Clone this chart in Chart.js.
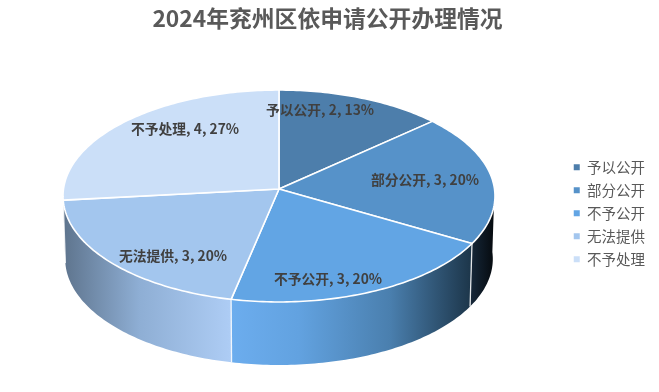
<!DOCTYPE html>
<html lang="zh">
<head>
<meta charset="utf-8">
<style>html,body{margin:0;padding:0;background:#fff}canvas{display:block}</style>
<script src="https://cdn.jsdelivr.net/npm/chart.js@4"></script>
</head>
<body>
<canvas id="c" width="659" height="392"></canvas>
<script>
const titleText = '2024年兖州区依申请公开办理情况';
const categories = ['予以公开', '部分公开', '不予公开', '无法提供', '不予处理'];
const values = [2, 3, 3, 3, 4];
const topColors = ['#4d7eab', '#5692c9', '#62a5e4', '#a3c6ee', '#cbdff8'];
const wallStops = [
  [['#4d7eab', 0], ['#4d7eab', 1]],
  [['#16283a', 0], ['#05090d', 1]],
  [['#6cadee', 0], ['#62a2e0', 0.28], ['#4a7fae', 0.66], ['#1c3549', 1]],
  [['#aecdf5', 0], ['#8eaed4', 0.55], ['#5e748d', 1]],
  [['#5e748d', 0], ['#5e748d', 1]]
];
const labelCenters = [[320, 110], [425, 180], [328, 279], [173, 256], [185, 129]];

const FONT = "'Noto Sans CJK SC', sans-serif";
const CX = 279, CY = 189, RA = 215.5, RB = 105.5, K = 0.066, DEPTH = 63, BASE_X = 0.99;

function project(theta, r, drop) {
  const u = r * Math.sin(theta), v = r * Math.cos(theta), w = 1 + K * v;
  const sx = drop ? BASE_X : 1;
  return [CX + sx * RA * u / w, CY - RB * v / w + (drop ? DEPTH : 0)];
}
const toClock = a => a + Math.PI / 2;

const pie3d = {
  id: 'pie3d',
  beforeDatasetsDraw(chart) {
    const ctx = chart.ctx;
    const arcs = chart.getDatasetMeta(0).data;
    ctx.save();
    ctx.lineJoin = 'round';
    const STEP = Math.PI / 180;
    const vis0 = Math.PI / 2, vis1 = 3 * Math.PI / 2;
    const segs = arcs.map((a, i) => ({ i, s: toClock(a.startAngle), e: toClock(a.endAngle) }));
    const order = segs.slice().sort((p, q) =>
      Math.abs((p.s + p.e) / 2 - Math.PI) < Math.abs((q.s + q.e) / 2 - Math.PI) ? 1 : -1);
    // side walls, outermost first
    for (const sg of order) {
      const s = Math.max(sg.s, vis0), e = Math.min(sg.e, vis1);
      if (e <= s) continue;
      const top = [], bot = [];
      for (let t = s; t < e; t += STEP) { top.push(project(t, 1, false)); bot.push(project(t, 1, true)); }
      top.push(project(e, 1, false)); bot.push(project(e, 1, true));
      const xs = top.map(p => p[0]).concat(bot.map(p => p[0]));
      const minX = Math.min(...xs), maxX = Math.max(...xs);
      const rightward = sg.i === 1 || sg.i === 2;
      const g = ctx.createLinearGradient(rightward ? minX : maxX, 0, rightward ? maxX : minX, 0);
      wallStops[sg.i].forEach(st => g.addColorStop(st[1], st[0]));
      ctx.beginPath();
      top.forEach((p, n) => n ? ctx.lineTo(p[0], p[1]) : ctx.moveTo(p[0], p[1]));
      bot.reverse().forEach(p => ctx.lineTo(p[0], p[1]));
      ctx.closePath();
      ctx.fillStyle = g;
      ctx.fill();
    }
    // seams between wall pieces
    ctx.strokeStyle = 'rgba(255,255,255,0.85)';
    ctx.lineWidth = 1.3;
    for (const sg of segs) {
      if (sg.e <= vis0 || sg.e >= vis1) continue;
      const a = project(sg.e, 1, false), b = project(sg.e, 1, true);
      ctx.beginPath(); ctx.moveTo(a[0], a[1]); ctx.lineTo(b[0], b[1]); ctx.stroke();
    }
    // top face
    ctx.strokeStyle = '#ffffff';
    ctx.lineWidth = 1.6;
    for (const sg of segs) {
      ctx.beginPath();
      ctx.moveTo(CX, CY);
      for (let t = sg.s; t < sg.e; t += STEP) { const p = project(t, 1, false); ctx.lineTo(p[0], p[1]); }
      const p = project(sg.e, 1, false); ctx.lineTo(p[0], p[1]);
      ctx.closePath();
      ctx.fillStyle = topColors[sg.i];
      ctx.fill();
      ctx.stroke();
    }
    // data labels
    const total = values.reduce((a, b) => a + b, 0);
    ctx.font = 'bold 13.8px ' + FONT;
    ctx.fillStyle = '#404040';
    ctx.textAlign = 'center';
    ctx.textBaseline = 'middle';
    categories.forEach((name, i) => {
      const txt = name + ', ' + values[i] + ', ' + Math.round(values[i] / total * 100) + '%';
      ctx.fillText(txt, labelCenters[i][0], labelCenters[i][1]);
    });
    ctx.restore();
    return false;
  }
};

new Chart(document.getElementById('c'), {
  type: 'pie',
  data: {
    labels: categories,
    datasets: [{ data: values, backgroundColor: topColors, borderWidth: 0 }]
  },
  options: {
    responsive: false,
    animation: false,
    events: [],
    layout: { padding: { right: 4, top: 5 } },
    plugins: {
      title: {
        display: true,
        text: titleText,
        color: '#595959',
        font: { family: FONT, size: 22.8, weight: 'bold' },
        padding: { top: 0, bottom: 2 }
      },
      legend: {
        position: 'right',
        fullSize: false,
        labels: {
          usePointStyle: true,
          pointStyle: 'rect',
          pointStyleWidth: 6,
          boxHeight: 6,
          color: '#595959',
          font: { family: FONT, size: 14.5 },
          padding: 8.5
        }
      },
      tooltip: { enabled: false }
    }
  },
  plugins: [pie3d]
});
</script>
</body>
</html>
